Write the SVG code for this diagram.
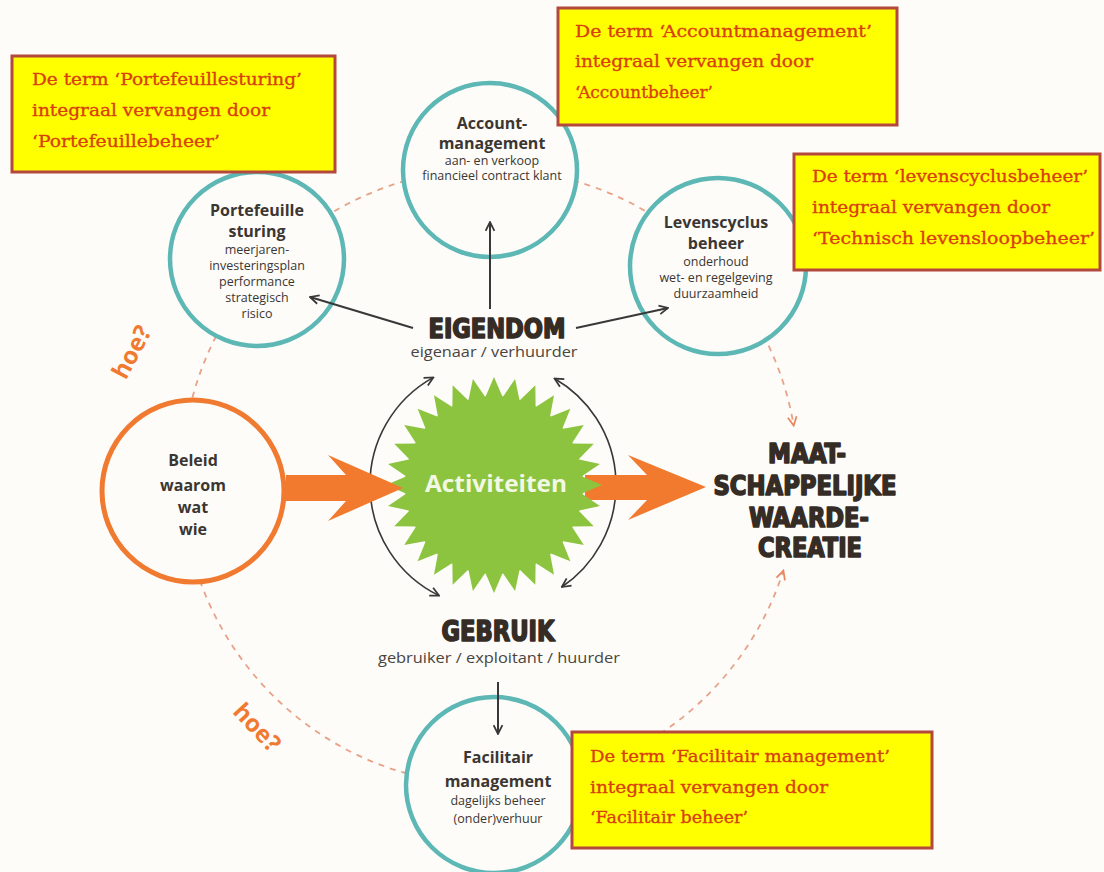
<svg xmlns="http://www.w3.org/2000/svg" width="1104" height="872" viewBox="0 0 1104 872">
  <defs>
    <style>
      .ring{fill:#fdfcf9;stroke:#5db7b4;stroke-width:4.5}
      .title{font-family:"Open Sans","Noto Sans",sans-serif;font-weight:bold;font-size:16px;fill:#3b3632;text-anchor:middle}
      .sub{font-family:"Open Sans","Noto Sans",sans-serif;font-size:12.5px;fill:#3b3632;text-anchor:middle}
      .note rect{fill:#ffff00;stroke:#b4483c;stroke-width:3}
      .note text{font-family:"DejaVu Serif","Liberation Serif",serif;font-size:17.5px;fill:#d8400e;stroke:#d8400e;stroke-width:0.35}
      .heavy{font-family:"DejaVu Sans Condensed","DejaVu Sans",sans-serif;font-weight:bold;fill:#362c26;stroke:#362c26;stroke-width:1.6;stroke-linejoin:round;text-anchor:middle}
      .role{font-family:"Open Sans","Noto Sans",sans-serif;font-size:14.5px;fill:#4a4440;text-anchor:middle}
      .dash{fill:none;stroke:#e8a287;stroke-width:1.8;stroke-dasharray:6 6}
      .conn{fill:none;stroke:#383838;stroke-width:2}
      .cycle{fill:none;stroke:#383838;stroke-width:1.6}
      .hoe{font-family:"Open Sans","Noto Sans",sans-serif;font-weight:bold;font-size:24px;fill:#f07a30;text-anchor:middle}
      .big{fill:#f27a2e}
    </style>
    <marker id="arrDark" viewBox="0 0 10 10" refX="9" refY="5" markerWidth="11" markerHeight="11" markerUnits="userSpaceOnUse" orient="auto-start-reverse">
      <path d="M1,1 L9,5 L1,9" fill="none" stroke="#383838" stroke-width="1.6"/>
    </marker>
    <marker id="arrDash" viewBox="0 0 10 10" refX="9" refY="5" markerWidth="11" markerHeight="11" markerUnits="userSpaceOnUse" orient="auto">
      <path d="M1,1 L9,5 L1,9" fill="none" stroke="#e8875f" stroke-width="1.6"/>
    </marker>
    <path id="spike" d="M-8.8,-87.5 L0,-108 L8.8,-87.5 Z"/>
  </defs>

  <rect width="1104" height="872" fill="#fdfcf9"/>

  <!-- dashed outer cycle -->
  <g id="connectors">
    <path class="dash" d="M490,169 A308,308 0 0 1 793.7,425.6" marker-end="url(#arrDash)"/>
    <path class="dash" d="M490,785 A308,308 0 0 0 783.4,570.6" marker-end="url(#arrDash)"/>
    <path class="dash" d="M490,785 A308,308 0 0 1 182,477 A308,308 0 0 1 490,169"/>
  </g>

  <!-- outer nodes -->
  <g id="portefeuille">
    <circle class="ring" cx="257" cy="259" r="87"/>
    <text class="title" x="257" y="216" font-size="17">Portefeuille</text>
    <text class="title" x="257" y="237" font-size="17">sturing</text>
    <text class="sub" x="257" y="254">meerjaren-</text>
    <text class="sub" x="257" y="270">investeringsplan</text>
    <text class="sub" x="257" y="286">performance</text>
    <text class="sub" x="257" y="302">strategisch</text>
    <text class="sub" x="257" y="318">risico</text>
  </g>

  <g id="account">
    <circle class="ring" cx="490" cy="170" r="87"/>
    <text class="title" x="492" y="129" font-size="15">Account-</text>
    <text class="title" x="492" y="149" font-size="15">management</text>
    <text class="sub" x="492" y="165" font-size="12">aan- en verkoop</text>
    <text class="sub" x="492" y="180" font-size="12">financieel contract klant</text>
  </g>

  <g id="levenscyclus">
    <circle class="ring" cx="718" cy="266" r="88"/>
    <text class="title" x="716" y="228">Levenscyclus</text>
    <text class="title" x="716" y="249">beheer</text>
    <text class="sub" x="716" y="266">onderhoud</text>
    <text class="sub" x="716" y="282">wet- en regelgeving</text>
    <text class="sub" x="716" y="298">duurzaamheid</text>
  </g>

  <g id="facilitair">
    <circle class="ring" cx="494" cy="785" r="88"/>
    <text class="title" x="498" y="763">Facilitair</text>
    <text class="title" x="498" y="787">management</text>
    <text class="sub" x="498" y="805">dagelijks beheer</text>
    <text class="sub" x="498" y="823">(onder)verhuur</text>
  </g>

  <g id="beleid">
    <circle cx="193" cy="491" r="91" fill="#fdfcf9" stroke="#f07a30" stroke-width="5"/>
    <text class="title" x="193" y="466" font-size="21">Beleid</text>
    <text class="title" x="193" y="491" font-size="17" font-weight="600">waarom</text>
    <text class="title" x="193" y="513" font-size="17" font-weight="600">wat</text>
    <text class="title" x="193" y="535" font-size="17" font-weight="600">wie</text>
  </g>

  <!-- double-headed arcs between ownership and use -->
  <g id="cycle-arrows">
    <path class="cycle" d="M439.1,595.6 A123,123 0 0 1 433.4,377.4" marker-start="url(#arrDark)" marker-end="url(#arrDark)"/>
    <path class="cycle" d="M554.5,378.5 A123,123 0 0 1 561.8,587" marker-start="url(#arrDark)" marker-end="url(#arrDark)"/>
  </g>

  <!-- outgoing arrow towards value creation -->
  <polygon id="arrow-out" class="big" points="585,475 647,475 628,455 706,487 628,520 647,500 585,500"/>

  <!-- central starburst -->
  <g id="activiteiten">
    <g transform="translate(494 485)" fill="#8cc43f">
      <circle r="89"/>
      <use href="#spike"/>
      <use href="#spike" transform="rotate(11.25)"/>
      <use href="#spike" transform="rotate(22.5)"/>
      <use href="#spike" transform="rotate(33.75)"/>
      <use href="#spike" transform="rotate(45)"/>
      <use href="#spike" transform="rotate(56.25)"/>
      <use href="#spike" transform="rotate(67.5)"/>
      <use href="#spike" transform="rotate(78.75)"/>
      <use href="#spike" transform="rotate(90)"/>
      <use href="#spike" transform="rotate(101.25)"/>
      <use href="#spike" transform="rotate(112.5)"/>
      <use href="#spike" transform="rotate(123.75)"/>
      <use href="#spike" transform="rotate(135)"/>
      <use href="#spike" transform="rotate(146.25)"/>
      <use href="#spike" transform="rotate(157.5)"/>
      <use href="#spike" transform="rotate(168.75)"/>
      <use href="#spike" transform="rotate(180)"/>
      <use href="#spike" transform="rotate(191.25)"/>
      <use href="#spike" transform="rotate(202.5)"/>
      <use href="#spike" transform="rotate(213.75)"/>
      <use href="#spike" transform="rotate(225)"/>
      <use href="#spike" transform="rotate(236.25)"/>
      <use href="#spike" transform="rotate(247.5)"/>
      <use href="#spike" transform="rotate(258.75)"/>
      <use href="#spike" transform="rotate(270)"/>
      <use href="#spike" transform="rotate(281.25)"/>
      <use href="#spike" transform="rotate(292.5)"/>
      <use href="#spike" transform="rotate(303.75)"/>
      <use href="#spike" transform="rotate(315)"/>
      <use href="#spike" transform="rotate(326.25)"/>
      <use href="#spike" transform="rotate(337.5)"/>
      <use href="#spike" transform="rotate(348.75)"/>
    </g>
    <text x="496" y="492" font-family="Open Sans, Noto Sans, sans-serif" font-weight="bold" font-size="23" fill="#f2f8e4" text-anchor="middle" textLength="142" lengthAdjust="spacingAndGlyphs">Activiteiten</text>
  </g>

  <!-- incoming arrow from policy -->
  <polygon id="arrow-in" class="big" points="286,475 346,475 328,455 403,488 328,521 346,501 286,501"/>

  <!-- ownership and use -->
  <g id="eigendom">
    <text class="heavy" x="497" y="338" font-size="27" textLength="137" lengthAdjust="spacingAndGlyphs">EIGENDOM</text>
    <text class="role" x="494" y="357" textLength="167" lengthAdjust="spacingAndGlyphs">eigenaar / verhuurder</text>
  </g>
  <g id="gebruik">
    <text class="heavy" x="498" y="641" font-size="28" textLength="113" lengthAdjust="spacingAndGlyphs">GEBRUIK</text>
    <text class="role" x="499" y="663" textLength="242" lengthAdjust="spacingAndGlyphs">gebruiker / exploitant / huurder</text>
  </g>

  <g id="links">
    <line class="conn" x1="490" y1="309" x2="490" y2="222" marker-end="url(#arrDark)"/>
    <line class="conn" x1="413" y1="328" x2="310" y2="297" marker-end="url(#arrDark)"/>
    <line class="conn" x1="576" y1="328" x2="668" y2="308" marker-end="url(#arrDark)"/>
    <line class="conn" x1="498" y1="682" x2="498" y2="734" marker-end="url(#arrDark)"/>
  </g>

  <g id="waardecreatie">
    <text class="heavy" x="807" y="463" font-size="27" textLength="78" lengthAdjust="spacingAndGlyphs">MAAT-</text>
    <text class="heavy" x="805" y="495" font-size="27" textLength="183" lengthAdjust="spacingAndGlyphs">SCHAPPELIJKE</text>
    <text class="heavy" x="809" y="527" font-size="27" textLength="120" lengthAdjust="spacingAndGlyphs">WAARDE-</text>
    <text class="heavy" x="810" y="557" font-size="27" textLength="104" lengthAdjust="spacingAndGlyphs">CREATIE</text>
  </g>

  <g id="hoe-labels">
    <text class="hoe" transform="translate(139 356) rotate(-62)">hoe?</text>
    <text class="hoe" transform="translate(251 733) rotate(47)">hoe?</text>
  </g>

  <!-- terminology notes -->
  <g id="note-portefeuille" class="note">
    <rect x="12" y="56" width="323" height="116"/>
    <text x="32" y="85" textLength="270" lengthAdjust="spacingAndGlyphs">De term ‘Portefeuillesturing’</text>
    <text x="32" y="116" textLength="238" lengthAdjust="spacingAndGlyphs">integraal vervangen door</text>
    <text x="32" y="147" textLength="188" lengthAdjust="spacingAndGlyphs">‘Portefeuillebeheer’</text>
  </g>
  <g id="note-account" class="note">
    <rect x="558" y="8" width="339" height="117"/>
    <text x="575" y="37" textLength="297" lengthAdjust="spacingAndGlyphs">De term ‘Accountmanagement’</text>
    <text x="575" y="67" textLength="238" lengthAdjust="spacingAndGlyphs">integraal vervangen door</text>
    <text x="575" y="98" textLength="138" lengthAdjust="spacingAndGlyphs">‘Accountbeheer’</text>
  </g>
  <g id="note-levenscyclus" class="note">
    <rect x="794" y="154" width="306" height="116"/>
    <text x="812" y="182" textLength="276" lengthAdjust="spacingAndGlyphs">De term ‘levenscyclusbeheer’</text>
    <text x="812" y="213" textLength="238" lengthAdjust="spacingAndGlyphs">integraal vervangen door</text>
    <text x="812" y="244" textLength="283" lengthAdjust="spacingAndGlyphs">‘Technisch levensloopbeheer’</text>
  </g>
  <g id="note-facilitair" class="note">
    <rect x="572" y="732" width="360" height="116"/>
    <text x="590" y="762" textLength="300" lengthAdjust="spacingAndGlyphs">De term ‘Facilitair management’</text>
    <text x="590" y="793" textLength="238" lengthAdjust="spacingAndGlyphs">integraal vervangen door</text>
    <text x="590" y="823" textLength="158" lengthAdjust="spacingAndGlyphs">‘Facilitair beheer’</text>
  </g>
</svg>
